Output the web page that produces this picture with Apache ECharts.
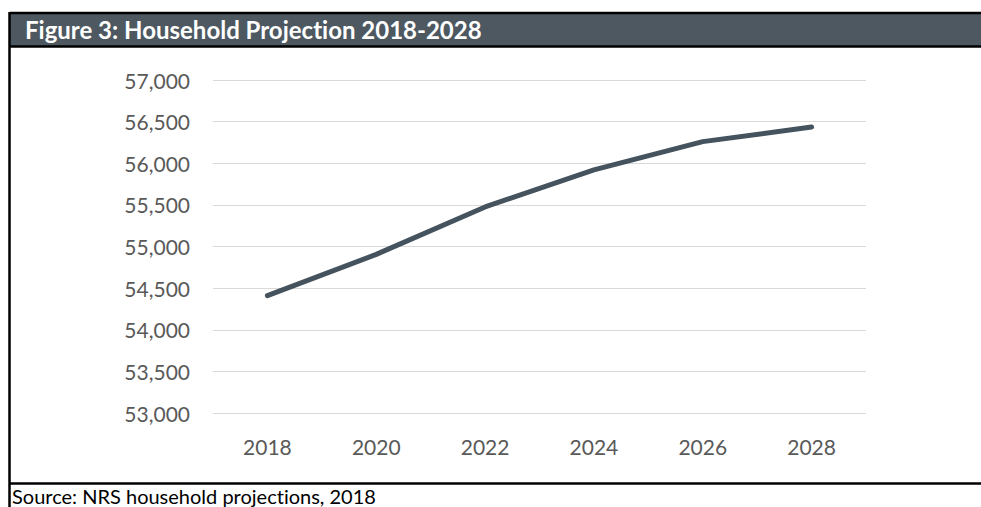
<!DOCTYPE html>
<html>
<head>
<meta charset="utf-8">
<title>Household Projection 2018-2028</title>
<script src="https://cdn.jsdelivr.net/npm/echarts@6/dist/echarts.min.js"></script>
<style>
  html, body { margin: 0; padding: 0; background: #ffffff; }
  #chart { width: 981px; height: 507px; }
  /* keep "ti" etc. as separate letters */
  #chart text { font-variant-ligatures: none; }
</style>
</head>
<body>
<div id="chart"></div>
<script>
// Projection years and household counts
const years = ['2018', '2020', '2022', '2024', '2026', '2028'];
const households = [54410, 54905, 55475, 55920, 56260, 56435];

// Value axis range
const yMin = 53000;
const yMax = 57000;
const yStep = 500;

const headerText = 'Figure 3: Household Projection 2018-2028';
const sourceText = 'Source: NRS household projections, 2018';

const FONT = 'Lato, "Open Sans", sans-serif';
const chart = echarts.init(document.getElementById('chart'), null, { renderer: 'svg' });

chart.setOption({
  backgroundColor: '#ffffff',
  animation: false,
  title: [
    {
      text: headerText,
      left: 25,
      top: 17,
      textStyle: { color: '#ffffff', fontFamily: FONT, fontWeight: 'bold', fontSize: 24, lineHeight: 24 },
      padding: 0
    },
    {
      text: sourceText,
      left: 12,
      top: 486,
      textStyle: { color: '#000000', fontFamily: FONT, fontWeight: 'normal', fontSize: 20, lineHeight: 20 },
      padding: 0
    }
  ],
  graphic: [
    // header band
    { type: 'rect', z: -1, shape: { x: 10, y: 13, width: 971, height: 33 }, style: { fill: '#4d5861' } },
    // frame lines
    { type: 'line', shape: { x1: 10, y1: 13, x2: 981, y2: 13 }, style: { stroke: '#000000', lineWidth: 2.5 } },
    { type: 'line', shape: { x1: 10, y1: 46.5, x2: 981, y2: 46.5 }, style: { stroke: '#000000', lineWidth: 2.5 } },
    { type: 'line', shape: { x1: 9.5, y1: 12, x2: 9.5, y2: 507 }, style: { stroke: '#000000', lineWidth: 2.5 } },
    { type: 'line', shape: { x1: 10, y1: 483.5, x2: 981, y2: 483.5 }, style: { stroke: '#000000', lineWidth: 2.5 } }
  ],
  grid: { left: 213, right: 115, top: 80, bottom: 94, containLabel: false },
  xAxis: {
    type: 'category',
    data: years,
    boundaryGap: true,
    axisLine: { show: false },
    axisTick: { show: false },
    axisLabel: { color: '#595959', fontFamily: FONT, fontSize: 21, margin: 23 }
  },
  yAxis: {
    type: 'value',
    min: yMin,
    max: yMax,
    interval: yStep,
    axisLine: { show: false },
    axisTick: { show: false },
    splitLine: { lineStyle: { color: '#d9d9d9', width: 1.2 } },
    axisLabel: {
      color: '#595959',
      fontFamily: FONT,
      fontSize: 21,
      margin: 23,
      formatter: v => v.toLocaleString('en-US')
    }
  },
  series: [
    {
      type: 'line',
      data: households,
      symbol: 'none',
      smooth: false,
      lineStyle: { color: '#44535e', width: 5, cap: 'round', join: 'round' }
    }
  ]
});
</script>
</body>
</html>
